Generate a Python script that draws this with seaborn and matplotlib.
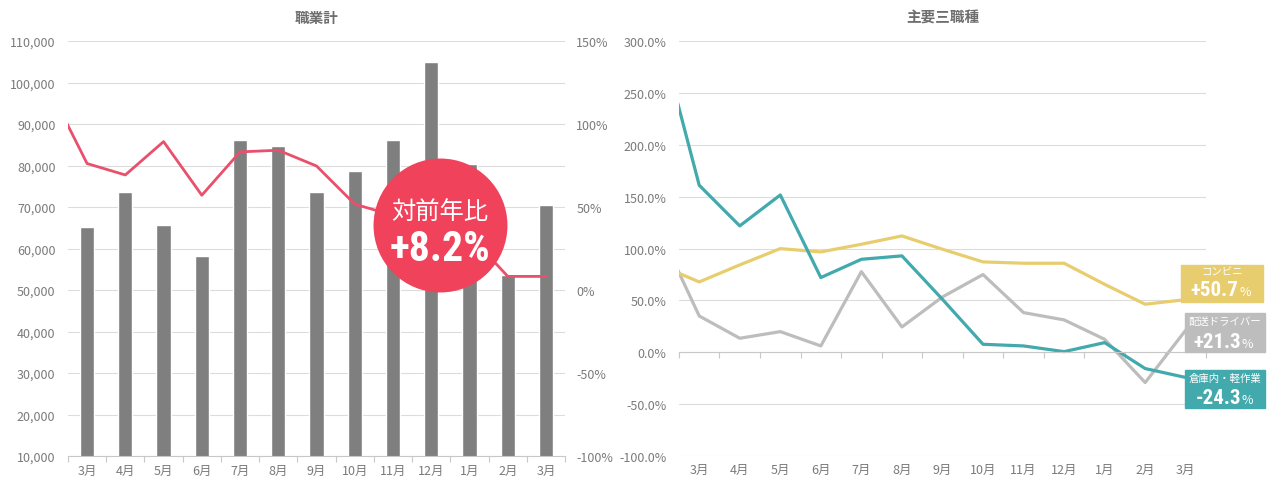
import numpy as np
import pandas as pd
import matplotlib
matplotlib.use('Agg')
import matplotlib.pyplot as plt
import matplotlib.patches as mpatches
import seaborn as sns

# data
months = ['3月', '4月', '5月', '6月', '7月', '8月', '9月', '10月', '11月', '12月', '1月', '2月', '3月']
total_jobs = [65200, 73500, 65700, 58150, 86100, 84700, 73500, 78600, 86100, 104900, 80350, 53600, 70500]
# YoY (%), first value is the previous month (clipped at the axis edge)
total_yoy = [122, 76.2, 69.3, 89.4, 57.1, 83.2, 84.2, 74.7, 51.7, 45, 40, 33, 8.2, 8.2]

warehouse = [310, 161, 121.8, 151.6, 72, 89.6, 92.9, 51, 7.7, 6.1, 0.6, 9.3, -15.7, -24.3]
conveni = [84.4, 67.8, 84.2, 99.9, 96.7, 104.1, 112.1, 99.3, 87.1, 85.8, 85.8, 65.5, 46.3, 50.7]
driver = [118.6, 35, 13.5, 19.9, 6.1, 77.7, 24.4, 53.3, 74.9, 38.2, 31.2, 12.5, -29.2, 21.3]

sns.set_theme(style='white')
plt.rcParams['font.family'] = ['Noto Sans CJK JP', 'DejaVu Sans']
narrow = ['Liberation Sans Narrow', 'Roboto Condensed', 'DejaVu Sans']

TICK = '#7a7a7a'
GRID = '#dcdcdc'
BAR = '#7f7f7f'
RED = '#e9506c'
CIRCLE = '#f0435b'
TEAL = '#42a9ad'
YELLOW = '#e8cd6f'
GRAY = '#bdbdbd'

fig = plt.figure(figsize=(12.7, 4.85), dpi=100)


def style_axis(ax):
    for s in ['top', 'right', 'left']:
        ax.spines[s].set_visible(False)
    ax.spines['bottom'].set_color('#c8c8c8')
    ax.spines['bottom'].set_linewidth(0.8)
    ax.set_xticks(range(len(months)))
    ax.set_xticklabels(months)
    ax.set_xticks(np.arange(-0.5, len(months)), minor=True)
    ax.tick_params(axis='x', which='major', length=0, pad=6, labelsize=9, labelcolor=TICK)
    ax.tick_params(axis='x', which='minor', length=4, color='#c8c8c8', width=0.8, bottom=True)
    ax.tick_params(axis='y', length=0, labelsize=9, labelcolor=TICK, pad=9)
    ax.grid(axis='y', color=GRID, linewidth=0.8)
    ax.grid(axis='x', visible=False)
    ax.set_xlabel('')
    ax.set_ylabel('')


# ---- left: 職業計 ----
ax1 = fig.add_axes([0.0535, 0.0577, 0.3915, 0.8557])
df_bar = pd.DataFrame({'idx': range(len(months)), 'jobs': total_jobs})
sns.barplot(data=df_bar, x='idx', y='jobs', color=BAR, width=0.37, saturation=1, ax=ax1)
ax1.set_ylim(10000, 110000)
ax1.set_yticks(range(10000, 110001, 10000))
ax1.set_yticklabels([f'{v:,}' for v in range(10000, 110001, 10000)])
style_axis(ax1)
ax1.set_xlim(-0.5, 12.5)
ax1.set_title('職業計', fontsize=10.5, color='#6e6e6e', fontweight='bold', pad=14)

ax1b = ax1.twinx()
sns.lineplot(x=np.arange(-1, len(months)), y=total_yoy, color=RED, linewidth=2.0, ax=ax1b)
ax1b.set_ylim(-100, 150)
ax1b.set_yticks(range(-100, 151, 50))
ax1b.set_yticklabels([f'{v}%' for v in range(-100, 151, 50)])
ax1b.tick_params(axis='y', length=0, labelsize=9, labelcolor=TICK, pad=8)
for s in ax1b.spines.values():
    s.set_visible(False)
ax1b.grid(False)
ax1b.set_xlim(-0.5, 12.5)

# YoY badge
ax1b.scatter([0.748], [0.557], s=9300, color=CIRCLE, transform=ax1b.transAxes,
             zorder=5, clip_on=False, linewidths=0)
ax1b.text(0.748, 0.59, '対前年比', transform=ax1b.transAxes, ha='center', va='center',
          fontsize=17.5, color='white', zorder=6)
ax1b.text(0.748, 0.50, '+8.2%', transform=ax1b.transAxes, ha='center', va='center',
          fontsize=30, color='white', fontweight='bold', family=narrow, zorder=6)

# ---- right: 主要三職種 ----
ax2 = fig.add_axes([0.5346, 0.0577, 0.415, 0.8557])
df_line = pd.DataFrame({
    'x': np.tile(np.arange(-1, len(months)), 3),
    'v': warehouse + conveni + driver,
    's': ['倉庫内・軽作業'] * 14 + ['コンビニ'] * 14 + ['配送ドライバー'] * 14,
})
sns.lineplot(data=df_line, x='x', y='v', hue='s',
             hue_order=['配送ドライバー', 'コンビニ', '倉庫内・軽作業'],
             palette=[GRAY, YELLOW, TEAL], linewidth=2.3, legend=False, ax=ax2)
ax2.set_ylim(-100, 300)
ax2.set_yticks(range(-100, 301, 50))
ax2.set_yticklabels([f'{v:.1f}%' for v in range(-100, 301, 50)])
style_axis(ax2)
ax2.spines['bottom'].set_position(('data', 0))
ax2.set_xlim(-0.5, 12.5)
ax2.tick_params(axis='x', which='major', pad=80)
ax2.set_title('主要三職種', fontsize=10.5, color='#6e6e6e', fontweight='bold', pad=14)

# end labels
W, H = 1270, 485
labels = [
    ('コンビニ', f'+{conveni[-1]:.1f}', YELLOW, 1181, 266, 82, 37, 6, 25),
    ('配送ドライバー', f'+{driver[-1]:.1f}', GRAY, 1185, 314, 80, 39, 8, 28),
    ('倉庫内・軽作業', f'{warehouse[-1]:.1f}', TEAL, 1185, 371, 80, 38, 8, 28),
]
for name, val, col, x0, y0, w, h, dn, dv in labels:
    fig.patches.append(mpatches.Rectangle((x0 / W, 1 - (y0 + h) / H), w / W, h / H,
                                          transform=fig.transFigure, color=col, zorder=10))
    cx = x0 + w / 2
    fig.text(cx / W, 1 - (y0 + dn) / H, name, ha='center', va='center', fontsize=7.5,
             color='white', zorder=11)
    fig.text((cx + 16) / W, 1 - (y0 + dv) / H, val, ha='right', va='center', fontsize=15,
             color='white', fontweight='bold', family=narrow, zorder=11)
    fig.text((cx + 17) / W, 1 - (y0 + dv + 2) / H, '%', ha='left', va='center', fontsize=9,
             color='white', zorder=11)

fig.savefig('out.png', dpi=100)
